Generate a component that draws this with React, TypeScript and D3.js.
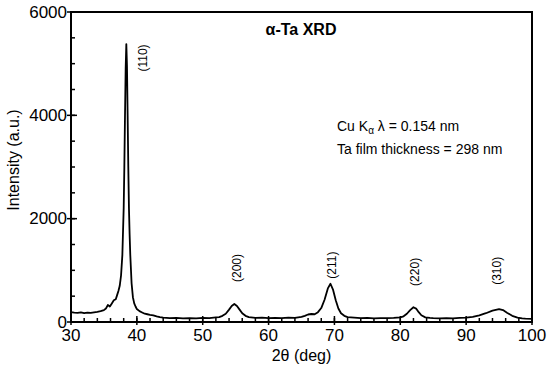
import { useEffect, useRef } from 'react'
import * as d3 from 'd3'

// 2θ (deg) and intensity (a.u.)
const twoTheta = [
  30, 30.5, 31, 31.5, 32, 32.5, 33, 33.5, 34, 34.5, 35, 35.3, 35.6, 35.9, 36.2, 36.5, 36.8, 37, 37.2, 37.4,
  37.6, 37.8, 38.0, 38.1, 38.2, 38.3, 38.4, 38.5, 38.6, 38.7, 38.8, 38.9, 39.0, 39.2, 39.4, 39.6, 39.8, 40.0,
  40.4, 40.8, 41.2, 41.6, 42, 42.5, 43, 43.5, 44, 44.5, 45, 46, 47, 48, 49, 50, 51, 52, 52.5, 53, 53.5, 54,
  54.4, 54.8, 55.2, 55.6, 56, 56.5, 57, 58, 59, 60, 61, 62, 63, 64, 65, 65.5, 66, 66.5, 67, 67.5, 68, 68.5,
  69, 69.4, 69.8, 70.2, 70.6, 71, 71.5, 72, 73, 74, 75, 76, 77, 78, 79, 80, 80.5, 81, 81.5, 82, 82.4, 82.8,
  83.2, 83.8, 84.5, 85, 86, 87, 88, 89, 90, 91, 92, 93, 94, 95, 95.6, 96.2, 97, 97.8, 98.5, 99, 100,
]
const intensity = [
  190, 180, 175, 185, 170, 180, 175, 185, 195, 210, 230, 260, 330, 300, 360, 420, 440, 520, 600, 700,
  900, 1300, 2200, 3000, 4000, 4900, 5380, 4950, 4000, 3000, 2200, 1700, 1300, 750, 480, 360, 300, 250,
  210, 185, 160, 150, 140, 130, 110, 95, 85, 80, 75, 80, 70, 75, 70, 80, 75, 90, 95, 120, 160, 240,
  310, 350, 310, 240, 170, 120, 95, 80, 85, 75, 80, 75, 85, 80, 100, 120, 145, 155, 150, 190, 270, 430,
  650, 740, 620, 420, 260, 170, 120, 95, 85, 75, 80, 70, 75, 75, 80, 90, 110, 160, 230, 285, 260, 190,
  130, 90, 80, 75, 70, 75, 70, 80, 85, 100, 130, 170, 220, 250, 230, 180, 120, 85, 70, 65, 60,
]

// Miller index labels, placed over each reflection
const peakLabels = ['(110)', '(200)', '(211)', '(220)', '(310)']
const labelTheta = [40.9, 55.2, 69.65, 82.25, 94.7]
const labelIntensity = [5110, 1045, 1100, 970, 990]

const xTicks = [30, 40, 50, 60, 70, 80, 90, 100]
const yTicks = [0, 2000, 4000, 6000]

const W = 550
const H = 373
const M = { top: 12, right: 18, bottom: 51, left: 71 }
const FONT = 'Liberation Sans, Arial, sans-serif'

export default function App() {
  const ref = useRef<SVGSVGElement>(null)

  useEffect(() => {
    const svg = d3.select(ref.current)
    svg.selectAll('*').remove()

    const x = d3.scaleLinear().domain([30, 100]).range([M.left, W - M.right])
    const y = d3.scaleLinear().domain([0, 6000]).range([H - M.bottom, M.top])

    const g = svg.append('g').style('font-family', FONT)

    // minor ticks (inward)
    g.append('g')
      .selectAll('line')
      .data(d3.range(30, 100.01, 2))
      .join('line')
      .attr('x1', (d) => x(d)).attr('x2', (d) => x(d))
      .attr('y1', y(0)).attr('y2', y(0) - 4)
      .attr('stroke', '#000').attr('stroke-width', 1.5)
    g.append('g')
      .selectAll('line')
      .data(d3.range(0, 6000.1, 500))
      .join('line')
      .attr('x1', x(30)).attr('x2', x(30) + 4)
      .attr('y1', (d) => y(d)).attr('y2', (d) => y(d))
      .attr('stroke', '#000').attr('stroke-width', 1.5)

    // major ticks (crossing)
    g.append('g')
      .selectAll('line')
      .data(xTicks)
      .join('line')
      .attr('x1', (d) => x(d)).attr('x2', (d) => x(d))
      .attr('y1', y(0) + 3).attr('y2', y(0) - 6)
      .attr('stroke', '#000').attr('stroke-width', 1.5)
    g.append('g')
      .selectAll('line')
      .data(yTicks)
      .join('line')
      .attr('x1', x(30) - 4).attr('x2', x(30) + 6)
      .attr('y1', (d) => y(d)).attr('y2', (d) => y(d))
      .attr('stroke', '#000').attr('stroke-width', 1.5)

    // tick labels
    g.append('g')
      .selectAll('text')
      .data(xTicks)
      .join('text')
      .attr('x', (d) => x(d))
      .attr('y', 341)
      .attr('text-anchor', 'middle')
      .style('font-size', '17px')
      .text((d) => d)
    g.append('g')
      .selectAll('text')
      .data(yTicks)
      .join('text')
      .attr('x', x(30) - 4)
      .attr('y', (d) => y(d))
      .attr('dy', '0.33em')
      .attr('text-anchor', 'end')
      .style('font-size', '17px')
      .text((d) => d)

    // frame
    g.append('rect')
      .attr('x', x(30)).attr('y', y(6000))
      .attr('width', x(100) - x(30)).attr('height', y(0) - y(6000))
      .attr('fill', 'none').attr('stroke', '#000').attr('stroke-width', 2)

    // pattern
    const line = d3.line<number>()
      .x((d, i) => x(twoTheta[i]))
      .y((d) => y(d))
    g.append('path')
      .datum(intensity)
      .attr('d', line)
      .attr('fill', 'none')
      .attr('stroke', '#000')
      .attr('stroke-width', 1.8)
      .attr('stroke-linejoin', 'round')

    // peak labels
    g.append('g')
      .selectAll('text')
      .data(peakLabels)
      .join('text')
      .attr('transform', (d, i) => `translate(${x(labelTheta[i])},${y(labelIntensity[i])}) rotate(-90)`)
      .attr('text-anchor', 'middle')
      .attr('dy', '0.35em')
      .style('font-size', '12px')
      .text((d) => d)

    // title
    g.append('text')
      .attr('x', 301).attr('y', 35)
      .attr('text-anchor', 'middle')
      .style('font-size', '16px').style('font-weight', 'bold')
      .text('α-Ta XRD')

    // annotation
    const note = g.append('text').attr('x', 337).attr('y', 131).style('font-size', '14px')
    note.append('tspan').text('Cu K')
    note.append('tspan').attr('dy', 3).style('font-size', '10px').text('α')
    note.append('tspan').attr('dy', -3).text(' λ = 0.154 nm')
    g.append('text')
      .attr('x', 337).attr('y', 154)
      .style('font-size', '14px')
      .text('Ta film thickness = 298 nm')

    // axis titles
    g.append('text')
      .attr('x', (x(30) + x(100)) / 2).attr('y', 361)
      .attr('text-anchor', 'middle')
      .style('font-size', '16px')
      .text('2θ (deg)')
    g.append('text')
      .attr('transform', `translate(19,160) rotate(-90)`)
      .attr('text-anchor', 'middle')
      .style('font-size', '16px')
      .text('Intensity (a.u.)')
  }, [])

  return (
    <svg ref={ref} width={W} height={H} style={{ position: 'absolute', left: 0, top: 0, background: '#fff' }} />
  )
}
